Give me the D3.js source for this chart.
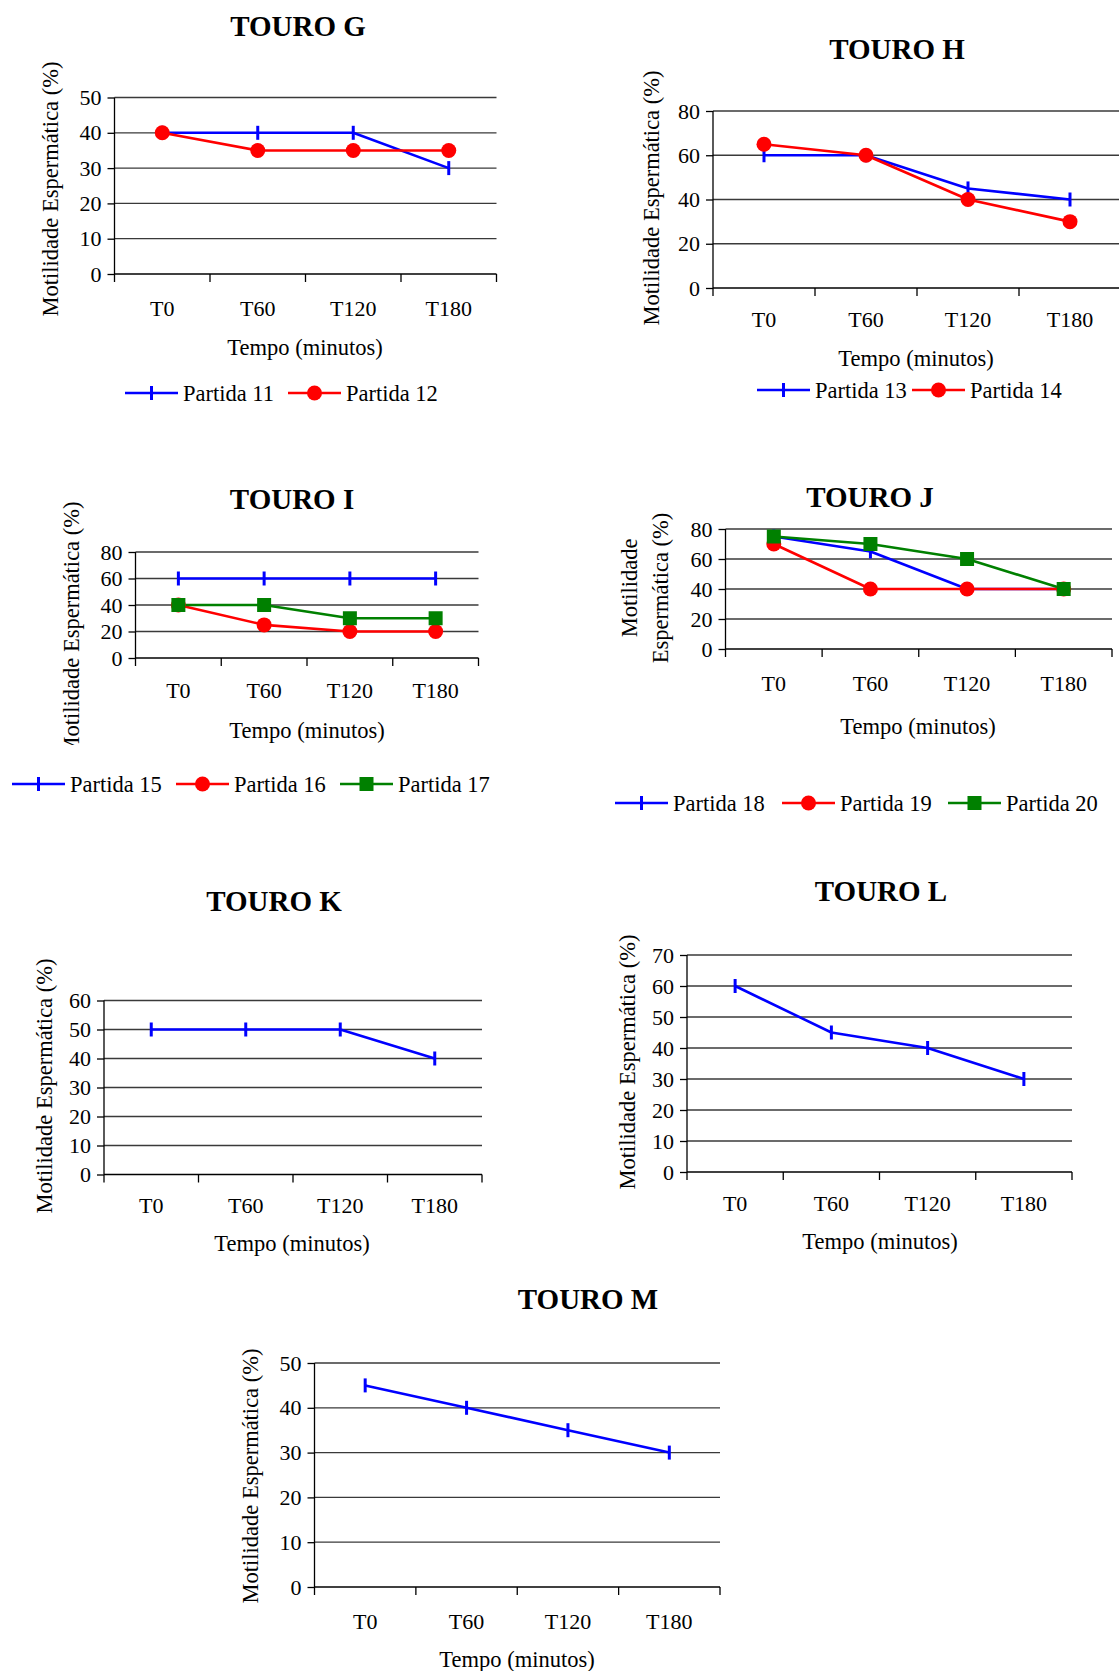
<!DOCTYPE html>
<html>
<head>
<meta charset="utf-8">
<script src="https://cdn.jsdelivr.net/npm/d3@7"></script>
<style>
  html, body { margin: 0; padding: 0; background: #fff; }
  svg { display: block; }
  text { font-family: "Liberation Serif", "Times New Roman", serif; fill: #000; }
</style>
</head>
<body>
<svg id="chart" width="1119" height="1671"></svg>
<script>
// ---------------- DATA ----------------
const categories = ["T0", "T60", "T120", "T180"];

const touroG_names = ["Partida 11", "Partida 12"];
const touroG_p11 = [40, 40, 40, 30];
const touroG_p12 = [40, 35, 35, 35];
const touroG_ticks = [0, 10, 20, 30, 40, 50];

const touroH_names = ["Partida 13", "Partida 14"];
const touroH_p13 = [60, 60, 45, 40];
const touroH_p14 = [65, 60, 40, 30];
const touroH_ticks = [0, 20, 40, 60, 80];

const touroI_names = ["Partida 15", "Partida 16", "Partida 17"];
const touroI_p15 = [60, 60, 60, 60];
const touroI_p16 = [40, 25, 20, 20];
const touroI_p17 = [40, 40, 30, 30];
const touroI_ticks = [0, 20, 40, 60, 80];

const touroJ_names = ["Partida 18", "Partida 19", "Partida 20"];
const touroJ_p18 = [75, 65, 40, 40];
const touroJ_p19 = [70, 40, 40, 40];
const touroJ_p20 = [75, 70, 60, 40];
const touroJ_ticks = [0, 20, 40, 60, 80];

const touroK_values = [50, 50, 50, 40];
const touroK_ticks = [0, 10, 20, 30, 40, 50, 60];

const touroL_values = [60, 45, 40, 30];
const touroL_ticks = [0, 10, 20, 30, 40, 50, 60, 70];

const touroM_values = [45, 40, 35, 30];
const touroM_ticks = [0, 10, 20, 30, 40, 50];

const xTitle = "Tempo (minutos)";
const yTitle = "Motilidade Espermática (%)";

// ---------------- STYLE ----------------
const BLUE = "#0000FF", RED = "#FF0000", GREEN = "#008000";
const styleBlue = { color: BLUE, marker: "tick" };
const styleRed = { color: RED, marker: "circle" };
const styleGreen = { color: GREEN, marker: "square" };

const svg = d3.select("#chart");
let clipId = 0;

function drawMarker(g, type, color, x, y) {
  if (type === "tick") {
    g.append("line").attr("x1", x).attr("x2", x).attr("y1", y - 7).attr("y2", y + 7)
      .attr("stroke", color).attr("stroke-width", 3);
  } else if (type === "circle") {
    g.append("circle").attr("cx", x).attr("cy", y).attr("r", 7.5).attr("fill", color);
  } else if (type === "square") {
    g.append("rect").attr("x", x - 7).attr("y", y - 7).attr("width", 14).attr("height", 14).attr("fill", color);
  }
}

function drawChart(cfg) {
  const g = svg.append("g");
  const x = d3.scaleBand().domain(categories).range([cfg.left, cfg.right]);
  const y = d3.scaleLinear().domain([0, d3.max(cfg.ticks)]).range([cfg.bottom, cfg.top]);

  // title
  g.append("text").attr("x", cfg.titleX).attr("y", cfg.titleY)
    .attr("text-anchor", "middle").attr("font-weight", "bold").attr("font-size", 29)
    .text(cfg.title);

  // gridlines
  g.append("g").selectAll("line").data(cfg.ticks.filter(t => t > 0)).join("line")
    .attr("x1", cfg.left).attr("x2", cfg.right)
    .attr("y1", d => y(d)).attr("y2", d => y(d))
    .attr("stroke", "#3a3a3a").attr("stroke-width", 1.3);

  // y axis
  const yAxis = d3.axisLeft(y).tickValues(cfg.ticks).tickSize(7).tickPadding(6);
  const ya = g.append("g").attr("transform", `translate(${cfg.left},0)`).call(yAxis);
  ya.select(".domain").attr("stroke", "#000").attr("stroke-width", 1.3).attr("d", `M0,${cfg.bottom}V${cfg.top}`);
  ya.selectAll(".tick line").attr("stroke", "#000").attr("stroke-width", 1.3);
  ya.selectAll(".tick text").attr("font-size", 22).attr("font-family", "Liberation Serif").attr("fill", "#000");

  // x axis
  const xAxis = d3.axisBottom(x).tickSize(0).tickPadding(0);
  const xa = g.append("g").attr("transform", `translate(0,${cfg.bottom})`).call(xAxis);
  xa.select(".domain").attr("stroke", "#000").attr("stroke-width", 1.3).attr("d", `M${cfg.left},0H${cfg.right}`);
  xa.selectAll(".tick text").attr("font-size", 22).attr("font-family", "Liberation Serif").attr("fill", "#000")
    .attr("dy", null).attr("y", cfg.xLabelY - cfg.bottom).attr("dominant-baseline", "central");
  // boundary tick marks
  const bounds = categories.map(c => x(c)).concat([x(categories[categories.length - 1]) + x.bandwidth()]);
  xa.append("g").selectAll("line").data(bounds).join("line")
    .attr("x1", d => d).attr("x2", d => d).attr("y1", 0).attr("y2", 8)
    .attr("stroke", "#000").attr("stroke-width", 1.3);

  // x title
  g.append("text").attr("x", cfg.xTitleX).attr("y", cfg.xTitleY).attr("text-anchor", "middle")
    .attr("dominant-baseline", "central").attr("font-size", 22.5).text(xTitle);

  // y title
  let yt = g.append("g");
  if (cfg.yClip) {
    const id = "clip" + (clipId++);
    svg.append("clipPath").attr("id", id).append("rect")
      .attr("x", 0).attr("y", 0).attr("width", 1119).attr("height", cfg.yClip);
    yt.attr("clip-path", `url(#${id})`);
  }
  const lines = cfg.yLines || [{ text: yTitle, x: cfg.yTitleX }];
  lines.forEach(l => {
    yt.append("text").attr("transform", `translate(${l.x},${cfg.yTitleY}) rotate(-90)`)
      .attr("text-anchor", "middle").attr("dominant-baseline", "central").attr("font-size", 22.5)
      .text(l.text);
  });

  // series
  const lineGen = d3.line().x((d, i) => x(categories[i]) + x.bandwidth() / 2).y(d => y(d));
  cfg.series.forEach(s => {
    g.append("path").attr("d", lineGen(s.values)).attr("fill", "none")
      .attr("stroke", s.style.color).attr("stroke-width", 2.6).attr("stroke-linejoin", "round");
  });
  cfg.series.forEach(s => {
    s.values.forEach((v, i) => drawMarker(g, s.style.marker, s.style.color, x(categories[i]) + x.bandwidth() / 2, y(v)));
  });

  // legend
  if (cfg.legend) {
    cfg.series.forEach((s, i) => {
      const lx = cfg.legend.xs[i];
      const ly = cfg.legend.y;
      g.append("line").attr("x1", lx).attr("x2", lx + 53).attr("y1", ly).attr("y2", ly)
        .attr("stroke", s.style.color).attr("stroke-width", 2.6);
      drawMarker(g, s.style.marker, s.style.color, lx + 26.5, ly);
      g.append("text").attr("x", lx + 58).attr("y", ly).attr("dominant-baseline", "central")
        .attr("font-size", 22.5).text(s.name);
    });
  }
}

// ---------------- CHARTS ----------------
drawChart({
  title: "TOURO G", titleX: 298, titleY: 36,
  left: 114.5, right: 496.5, top: 97.5, bottom: 274, ticks: touroG_ticks,
  xLabelY: 308, xTitleX: 305, xTitleY: 347, yTitleX: 50, yTitleY: 189,
  series: [
    { name: touroG_names[0], values: touroG_p11, style: styleBlue },
    { name: touroG_names[1], values: touroG_p12, style: styleRed }
  ],
  legend: { y: 393, xs: [125, 288] }
});

drawChart({
  title: "TOURO H", titleX: 897, titleY: 59,
  left: 713, right: 1121, top: 111, bottom: 288, ticks: touroH_ticks,
  xLabelY: 319, xTitleX: 916, xTitleY: 358, yTitleX: 651, yTitleY: 198,
  series: [
    { name: touroH_names[0], values: touroH_p13, style: styleBlue },
    { name: touroH_names[1], values: touroH_p14, style: styleRed }
  ],
  legend: { y: 390, xs: [757, 912] }
});

drawChart({
  title: "TOURO I", titleX: 292, titleY: 509,
  left: 135.5, right: 478.5, top: 552, bottom: 658, ticks: touroI_ticks,
  xLabelY: 690, xTitleX: 307, xTitleY: 730, yTitleX: 71, yTitleY: 629, yClip: 745,
  series: [
    { name: touroI_names[0], values: touroI_p15, style: styleBlue },
    { name: touroI_names[1], values: touroI_p16, style: styleRed },
    { name: touroI_names[2], values: touroI_p17, style: styleGreen }
  ],
  legend: { y: 784, xs: [12, 176, 340] }
});

drawChart({
  title: "TOURO J", titleX: 870, titleY: 507,
  left: 725.5, right: 1112, top: 529, bottom: 649, ticks: touroJ_ticks,
  xLabelY: 683, xTitleX: 918, xTitleY: 726, yTitleY: 588,
  yLines: [{ text: "Motilidade", x: 629 }, { text: "Espermática (%)", x: 660 }],
  series: [
    { name: touroJ_names[0], values: touroJ_p18, style: styleBlue },
    { name: touroJ_names[1], values: touroJ_p19, style: styleRed },
    { name: touroJ_names[2], values: touroJ_p20, style: styleGreen }
  ],
  legend: { y: 803, xs: [615, 782, 948] }
});

drawChart({
  title: "TOURO K", titleX: 274, titleY: 911,
  left: 104, right: 482, top: 1000.5, bottom: 1174.5, ticks: touroK_ticks,
  xLabelY: 1205, xTitleX: 292, xTitleY: 1243, yTitleX: 44, yTitleY: 1086,
  series: [{ name: "", values: touroK_values, style: styleBlue }]
});

drawChart({
  title: "TOURO L", titleX: 881, titleY: 901,
  left: 687, right: 1072, top: 955, bottom: 1172, ticks: touroL_ticks,
  xLabelY: 1203, xTitleX: 880, xTitleY: 1241, yTitleX: 627, yTitleY: 1062,
  series: [{ name: "", values: touroL_values, style: styleBlue }]
});

drawChart({
  title: "TOURO M", titleX: 588, titleY: 1309,
  left: 314.5, right: 720, top: 1363, bottom: 1587, ticks: touroM_ticks,
  xLabelY: 1621, xTitleX: 517, xTitleY: 1659, yTitleX: 250, yTitleY: 1476,
  series: [{ name: "", values: touroM_values, style: styleBlue }]
});
</script>
</body>
</html>
